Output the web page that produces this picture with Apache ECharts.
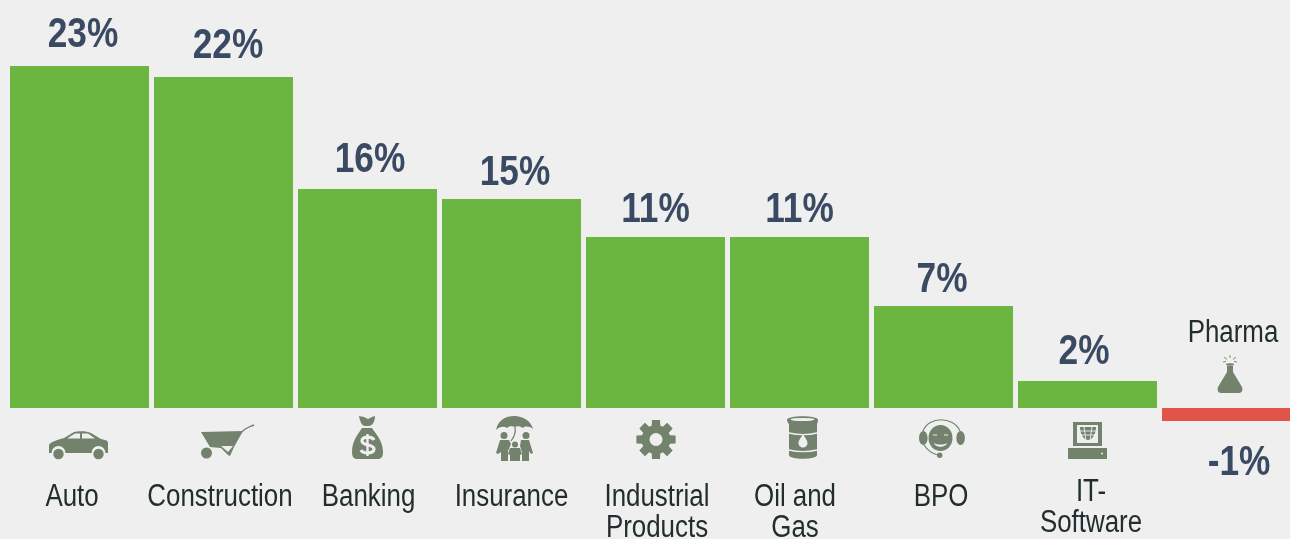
<!DOCTYPE html>
<html>
<head>
<meta charset="utf-8">
<style>
    html, body { margin: 0; padding: 0; background: #efefef; overflow: hidden; }
    #chart { width: 1290px; height: 539px; }
</style>
</head>
<body>
<div id="chart"></div>
<script src="https://cdn.jsdelivr.net/npm/echarts@6/dist/echarts.min.js"></script>
<script>
const categories = ['Auto', 'Construction', 'Banking', 'Insurance', 'Industrial\nProducts', 'Oil and\nGas', 'BPO', 'IT-\nSoftware', 'Pharma']
// the bars in the picture are not to scale with their printed labels, so both are kept
const barHeights = [22.8, 22.07, 14.6, 13.93, 11.4, 11.4, 6.8, 1.8, -0.87]
const valueLabels = ['23%', '22%', '16%', '15%', '11%', '11%', '7%', '2%', '-1%']

const BG = '#efefef'
const ICON = '#72826d'
const FONT = '"Liberation Sans", Arial, sans-serif'
// no narrow face is installed, so the regular one is squeezed
const SQUEEZE_VALUE = 0.82
const SQUEEZE_TEXT = 0.835

// nudges against the bar centre / bar end, in px
const valueLabelDx = [3.5, 4.5, 2.5, 3.5, 0, 0, -1.5, -3.5, 7.5]
const valueLabelDy = [-31, -31, -29, -26, -27, -27, -26, -29, 42]
const textDx = [-7.5, -3.5, 1, 0, 1.5, -4.5, -2.5, 3.5, 1.5]
const textY = [89, 89, 89, 89, 89, 89, 89, 84, -75]
const iconDx = [-30.5, -22.5, -15.5, -15.5, -19.5, -12.5, -24.5, -19.5, -14.5]
const iconY = [23, 17, 8, 8, 12, 8, 11, 14, -53]

const circle = (cx, cy, r, ry) => {
    ry = ry || r
    return `M${cx - r} ${cy}a${r} ${ry} 0 1 0 ${2 * r} 0a${r} ${ry} 0 1 0 ${-2 * r} 0Z`
}

const gearPath = () => {
    let d = ''
    for (let i = 0; i < 8; i++) {
        const a = i * Math.PI / 4
        const pt = (r, o) => (20 + r * Math.cos(a + o)).toFixed(1) + ' ' + (19.5 + r * Math.sin(a + o)).toFixed(1)
        d += (i ? 'L' : 'M') + pt(14.5, -0.3) + 'L' + pt(20, -0.2) + 'L' + pt(20, 0.2) + 'L' + pt(14.5, 0.3)
    }
    return d + 'Z'
}

const fill = (d, color) => ({ d, fill: color || ICON })
const line = (d, width, color) => ({ d, stroke: color || ICON, width })

const icons = [
    // car
    [
        fill('M0 14C1 11 8 9 15 7L25 1C30 0 38 0 42 2L52 8C56 9 59 9 59 12L59 22L0 22Z'),
        fill('M18 7.5L26 2.5L31 2.5L31 7.5Z', BG),
        fill('M33 2.5L39 2.5L46 7.5L33 7.5Z', BG),
        fill(circle(9.5, 22, 7), BG),
        fill(circle(49.5, 22, 7), BG),
        fill(circle(9.5, 23, 5.2)),
        fill(circle(49.5, 23, 5.2))
    ],
    // wheelbarrow
    [
        fill('M0 7L42 6L33 22L29 31L27 30L20 23L9 22Z'),
        fill('M20 21L32 21L27 27Z', BG),
        line('M41 7C44 3 48 2 53 0', 1.5),
        fill(circle(5.5, 28, 5.5))
    ],
    // money bag
    [
        fill('M7 0L12 1L16 3L20 1L23 0C23 6 20 10 17 10L13 10C10 10 8 6 7 0Z'),
        fill('M10 12L20 12C23 17 31 24 31 36C31 41 29 43 26 43L5 43C2 43 0 41 0 36C0 24 7 17 10 12Z'),
        line('M22 24C20 20 10 20 10 25C10 30 22 28 22 33C22 38 11 38 9 34', 3.2, BG),
        line('M15.5 18L15.5 40', 2.4, BG)
    ],
    // family under an umbrella
    [
        fill('M0 14C2 4 10 0 18 0C27 0 35 5 37 13C33 10 29 10 27 12C24 10 21 10 19 11C16 10 13 10 11 12C8 10 4 10 0 14Z'),
        line('M19 11C20 16 19 20 15 25', 1.2),
        fill(circle(8, 19.5, 3.5)),
        fill(circle(30, 19.5, 3.5)),
        fill(circle(19, 28.5, 3)),
        fill('M4 24L13 24L15 28L12 35L12 45L5 45L5 36L2 38L0 37Z'),
        fill('M25 24L33 24L37 37L35 38L33 35L33 45L26 45L26 36L24 30Z'),
        fill('M14 32L24 32L26 38L24 39L24 45L14 45L14 39L12 38Z')
    ],
    // gear
    [
        fill(gearPath()),
        fill(circle(20, 19.5, 6.5), BG)
    ],
    // oil barrel
    [
        fill('M0 4C0 -1 31 -1 31 4C31 6 30 8 30 8L30 39C30 44 2 44 2 39L2 8C2 8 0 6 0 4Z'),
        fill(circle(15.5, 3.5, 12, 1.6), BG),
        line('M2 17C10 19 22 19 30 17', 1.4, BG),
        line('M2 34C10 36 22 36 30 34', 1.4, BG),
        fill('M16 18C18 22 20.5 24 20.5 27C20.5 30 18 31.5 16 31.5C14 31.5 11.5 30 11.5 27C11.5 24 14 22 16 18Z', BG)
    ],
    // call centre head
    [
        line('M4 12C10 -3 34 -3 41 12', 1.2),
        line('M5 26C9 32 14 35 19 36', 1.2),
        fill(circle(4.3, 19, 4.3, 7)),
        fill(circle(41.6, 19, 4.3, 7)),
        fill(circle(21.5, 19, 12, 13)),
        fill(circle(20.7, 36.3, 2.7)),
        line('M14 16L18 16', 1, BG),
        line('M25 16L29 16', 1, BG),
        fill('M15 24C18 26 25 26 28 24C27 29 16 29 15 24Z', BG)
    ],
    // computer
    [
        fill('M5 0L34 0L34 24L5 24Z'),
        fill('M9 3L30 3L30 21L9 21Z', BG),
        fill('M12 5L28 5C28 12 24 18 20 18C16 18 12 12 12 5Z'),
        line('M12 9L28 9M13 13L27 13M16 5L18 18M24 5L22 18', 0.9, BG),
        fill('M0 26L39 26L39 37L0 37Z'),
        fill(circle(34, 31.5, 1), BG)
    ],
    // flask
    [
        line('M13 0L13 3M7 2L10 4.5M19 2L16 4.5M6 7L9 6.5M20 7L17 6.5', 0.9),
        fill(circle(13, 9.5, 4, 1.2)),
        fill('M10 11L16 11L16 17L25 32C26 35 25 38 22 38L4 38C1 38 0 35 1 32L10 17Z')
    ]
]

const squeezedText = (text, x, y, color, font, squeeze) => ({
    type: 'text',
    x,
    y,
    scaleX: squeeze,
    style: { text, x: 0, y: 0, align: 'center', verticalAlign: 'middle', fill: color, font }
})

const renderCategory = (params, api) => {
    const i = api.value(0)
    const centre = api.coord([i, 0])
    const barEnd = api.coord([i, barHeights[i]])
    const children = []

    children.push(squeezedText(valueLabels[i], centre[0] + valueLabelDx[i], barEnd[1] + valueLabelDy[i], '#3b4a63', 'bold 43px ' + FONT, SQUEEZE_VALUE))

    categories[i].split('\n').forEach((text, n) => {
        children.push(squeezedText(text, centre[0] + textDx[i], centre[1] + textY[i] + n * 31.5, '#222d2d', '31px ' + FONT, SQUEEZE_TEXT))
    })

    children.push({
        type: 'group',
        x: centre[0] + iconDx[i],
        y: centre[1] + iconY[i],
        children: icons[i].map((part) => ({
            type: 'path',
            shape: { pathData: part.d },
            style: part.stroke
                ? { fill: 'none', stroke: part.stroke, lineWidth: part.width }
                : { fill: part.fill }
        }))
    })
    return { type: 'group', children }
}

const chart = echarts.init(document.getElementById('chart'))
chart.setOption({
    animation: false,
    backgroundColor: BG,
    grid: { left: 7.5, width: 1296, top: 33, height: 495, outerBoundsMode: 'none' },
    xAxis: { type: 'category', data: categories, show: false },
    yAxis: { type: 'value', min: -8, max: 25, show: false },
    series: [{
        type: 'bar',
        barWidth: 139,
        clip: false,
        data: barHeights.map((value) => ({
            value,
            itemStyle: { color: value < 0 ? '#e05548' : '#6bb641' }
        }))
    }, {
        type: 'custom',
        clip: false,
        silent: true,
        data: categories.map((name, i) => [i]),
        encode: { x: 0 },
        renderItem: renderCategory
    }]
})
</script>
</body>
</html>
